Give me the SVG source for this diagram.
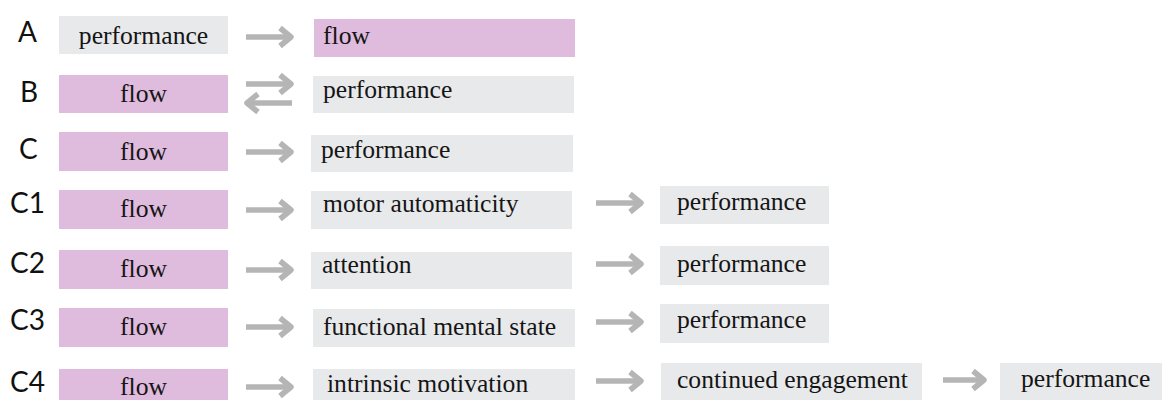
<svg xmlns="http://www.w3.org/2000/svg" xmlns:xlink="http://www.w3.org/1999/xlink" width="1162" height="400" viewBox="0 0 1162 400">
  <style>
    .flow { fill: #dfbbdd; }
    .box { fill: #e8e9eb; }
    .t { font-family: "Liberation Serif", "Times New Roman", serif; font-size: 25.6px; fill: #151515; }
    .c { text-anchor: middle; }
    .lbl { font-family: Lato, "Liberation Sans", sans-serif; font-size: 28px; fill: #111; }
    .arr { fill: none; stroke: #b5b5b5; stroke-width: 5.5; stroke-linejoin: round; }
  </style>
  <defs>
    <!-- right-pointing gray arrow, origin at the tail -->
    <g id="arrow">
      <path class="arr" d="M0,0 H44"/>
      <path class="arr" d="M34,-9 L45,0 L34,9"/>
    </g>
    <g id="arrowShort">
      <path class="arr" d="M0,0 H39"/>
      <path class="arr" d="M30,-9 L41,0 L30,9"/>
    </g>
  </defs>

  <!-- row labels -->
  <g id="labels">
    <text class="lbl" x="18" y="42">A</text>
    <text class="lbl" x="20" y="102">B</text>
    <text class="lbl" x="19" y="159">C</text>
    <text class="lbl" x="10" y="213">C1</text>
    <text class="lbl" x="10" y="273">C2</text>
    <text class="lbl" x="10" y="330">C3</text>
    <text class="lbl" x="10" y="392">C4</text>
  </g>

  <!-- row A -->
  <g id="A-performance"><rect class="box" x="59" y="16" width="169" height="38"/><text class="t c" x="143.5" y="44">performance</text></g>
  <g id="A-flow"><rect class="flow" x="314" y="19" width="261" height="38"/><text class="t" x="323" y="44">flow</text></g>

  <!-- row B -->
  <g id="B-flow"><rect class="flow" x="59" y="75" width="169" height="38"/><text class="t c" x="143.5" y="102">flow</text></g>
  <g id="B-performance"><rect class="box" x="313" y="76" width="261" height="37"/><text class="t" x="323" y="98">performance</text></g>

  <!-- row C -->
  <g id="C-flow"><rect class="flow" x="59" y="132" width="169" height="39"/><text class="t c" x="143.5" y="160">flow</text></g>
  <g id="C-performance"><rect class="box" x="311" y="135" width="262" height="37"/><text class="t" x="321" y="158">performance</text></g>

  <!-- row C1 -->
  <g id="C1-flow"><rect class="flow" x="59" y="190" width="169" height="39"/><text class="t c" x="143.5" y="217">flow</text></g>
  <g id="C1-motor"><rect class="box" x="311" y="191" width="261" height="38"/><text class="t" x="323" y="212">motor automaticity</text></g>
  <g id="C1-performance"><rect class="box" x="660" y="186" width="169" height="38"/><text class="t" x="677" y="210">performance</text></g>

  <!-- row C2 -->
  <g id="C2-flow"><rect class="flow" x="59" y="250" width="169" height="39"/><text class="t c" x="143.5" y="277">flow</text></g>
  <g id="C2-attention"><rect class="box" x="311" y="252" width="261" height="37"/><text class="t" x="322" y="273">attention</text></g>
  <g id="C2-performance"><rect class="box" x="660" y="246" width="169" height="39"/><text class="t" x="677" y="272">performance</text></g>

  <!-- row C3 -->
  <g id="C3-flow"><rect class="flow" x="59" y="308" width="169" height="39"/><text class="t c" x="143.5" y="335">flow</text></g>
  <g id="C3-functional"><rect class="box" x="313" y="309" width="262" height="38"/><text class="t" x="323" y="335">functional mental state</text></g>
  <g id="C3-performance"><rect class="box" x="660" y="304" width="169" height="39"/><text class="t" x="677" y="328">performance</text></g>

  <!-- row C4 -->
  <g id="C4-flow"><rect class="flow" x="59" y="369" width="169" height="40"/><text class="t c" x="143.5" y="395">flow</text></g>
  <g id="C4-intrinsic"><rect class="box" x="313" y="369" width="262" height="40"/><text class="t" x="327" y="392">intrinsic motivation</text></g>
  <g id="C4-engagement"><rect class="box" x="661" y="363" width="261" height="45"/><text class="t" x="677" y="388">continued engagement</text></g>
  <g id="C4-performance"><rect class="box" x="1000" y="363" width="170" height="45"/><text class="t" x="1021" y="387">performance</text></g>

  <!-- connectors -->
  <g id="connectors">
    <use xlink:href="#arrow" x="246" y="37"/>
    <use xlink:href="#arrow" x="246" y="84"/>
    <use xlink:href="#arrow" transform="translate(292,103) scale(-1,1)"/>
    <use xlink:href="#arrow" x="246" y="152"/>
    <use xlink:href="#arrow" x="246" y="210"/>
    <use xlink:href="#arrow" x="596" y="203"/>
    <use xlink:href="#arrow" x="246" y="270"/>
    <use xlink:href="#arrow" x="596" y="264"/>
    <use xlink:href="#arrow" x="246" y="327"/>
    <use xlink:href="#arrow" x="596" y="322"/>
    <use xlink:href="#arrow" x="246" y="387"/>
    <use xlink:href="#arrow" x="596" y="381"/>
    <use xlink:href="#arrowShort" x="943" y="380"/>
  </g>
</svg>
